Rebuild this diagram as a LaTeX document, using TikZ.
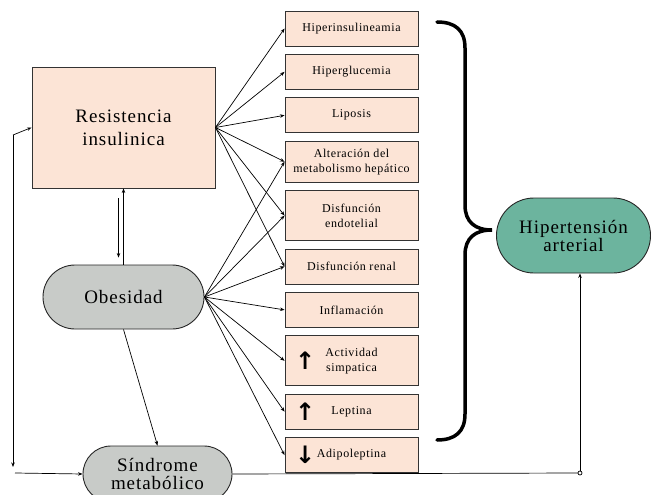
\documentclass[tikz,border=0pt]{standalone}
\usepackage{fontspec}
\setmainfont{Liberation Serif}[LetterSpace=5]
\newfontfamily\arrowfont{DejaVu Sans}
\usetikzlibrary{arrows.meta, positioning, shapes.misc}

\definecolor{boxpink}{RGB}{252,228,214}
\definecolor{pillgray}{RGB}{200,203,200}
\definecolor{pillgreen}{RGB}{108,180,158}

\begin{document}
\begin{tikzpicture}[
  x=1pt, y=-1pt,
  cause/.style={rectangle, draw=black!80, fill=boxpink, line width=0.9pt,
    minimum width=133pt, minimum height=35pt, align=center, inner sep=1pt,
    font=\fontsize{12}{15}\selectfont},
  pill/.style={rounded rectangle, draw=black!85, line width=0.9pt,
    align=center, inner sep=0pt, font=\fontsize{19}{18}\selectfont},
  edge/.style={-{Stealth[length=4.5pt, width=3.5pt]}, line width=0.7pt},
  updown/.style={label={[inner sep=0pt, label distance=-31pt,
    font=\arrowfont\bfseries\fontsize{24}{24}\selectfont]west:#1}},
  node distance=7.5pt
]
\useasboundingbox (0,0) rectangle (651,495);

% causes on the left
\node[cause, minimum width=183pt, minimum height=121pt,
  font=\fontsize{19}{23}\selectfont] (res) at (123.5,127.5) {Resistencia\\insulinica};
\node[pill, fill=pillgray, minimum width=161pt, minimum height=64pt] (obe) at (123.5,297) {Obesidad};
\node[pill, fill=pillgray, minimum width=149pt, minimum height=56pt] (sin) at (157.5,474) {Síndrome\\metabólico};
\node[pill, fill=pillgreen, minimum width=154pt, minimum height=75pt] (hip) at (573.5,235.5) {Hipertensión\\arterial};

% column of effects
\node[cause] (hins) at (351.5,28.5) {Hiperinsulineamia};
\node[cause, below=of hins] (hglu) {Hiperglucemia};
\node[cause, below=of hglu] (lip) {Liposis};
\node[cause, below=of lip, minimum height=41pt] (hep) {Alteración del\\metabolismo hepático};
\node[cause, below=of hep, minimum height=50pt] (endo) {Disfunción\\endotelial};
\node[cause, below=of endo] (renal) {Disfunción renal};
\node[cause, below=of renal] (infl) {Inflamación};
\node[cause, below=of infl, minimum height=50pt, updown=↑] (simp) {Actividad\\simpatica};
\node[cause, below=of simp, updown=↑] (lept) {Leptina};
\node[cause, below=of lept, updown=↓] (adip) {Adipoleptina};

% brace
\draw[line width=3.5pt, line cap=round]
  (437,22) .. controls (455,22) and (465,30) .. (465,48) -- (465,205)
  .. controls (465,222) and (475,230) .. (492,230)
  .. controls (475,230) and (465,238) .. (465,255) -- (465,414)
  .. controls (465,432) and (455,440) .. (437,440);

% resistencia
\draw[edge] (res.east) -- (hins.west);
\draw[edge] (res.east) -- (hglu.west);
\draw[edge] (res.east) -- (lip.west);
\draw[edge] (res.east) -- (hep.west);
\draw[edge] (res.east) -- (endo.west);
\draw[edge] (res.east) -- (renal.west);

% obesidad
\draw[edge] (obe.east) -- (hep.west);
\draw[edge] (obe.east) -- (endo.west);
\draw[edge] (obe.east) -- (renal.west);
\draw[edge] (obe.east) -- (infl.west);
\draw[edge] (obe.east) -- (simp.west);
\draw[edge] (obe.east) -- (lept.west);
\draw[edge] (obe.east) -- (adip.west);

\draw[edge] (obe.north) -- (res.south);
\draw[edge] ([xshift=-5pt, yshift=-10pt]res.south) -- ([xshift=-5pt, yshift=7pt]obe.north);
\draw[edge] (obe.south) -- (sin.north);

% loop on the left
\coordinate (lt) at (13,135);
\coordinate (lb) at (13,467);
\coordinate (lh) at (15,473);
\draw[edge] (lt) -- (res.west);
\draw[edge] (lt) -- (lb);
\draw[edge] (lh) -- (sin.west);

% to hipertension
\coordinate (jn) at (580,473);
\draw[line width=0.7pt] (sin.east) -- (jn);
\draw[edge] (jn) -- (jn |- hip.south);
\draw[fill=white, line width=0.7pt] (jn) circle (2pt);
\end{tikzpicture}
\end{document}
